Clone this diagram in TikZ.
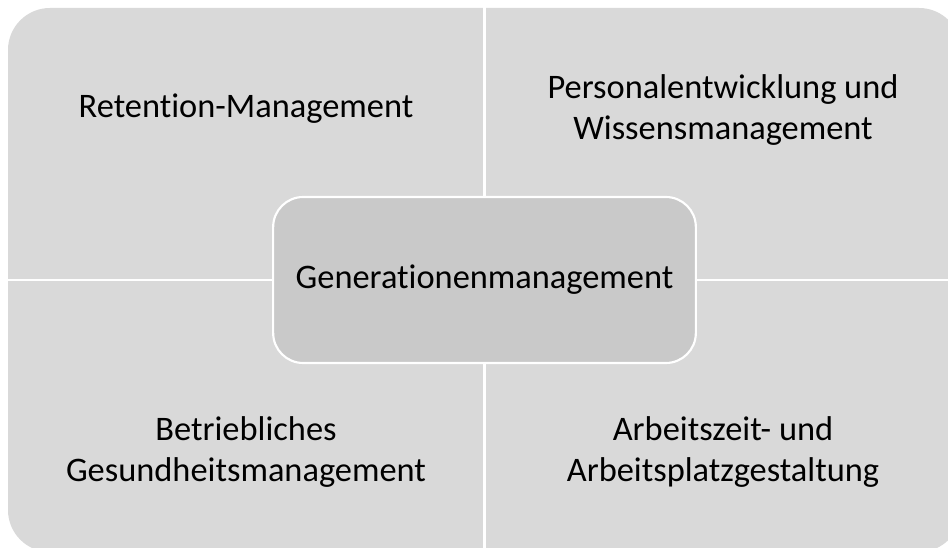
\documentclass[tikz,border=0pt]{standalone}
\usepackage{fontspec}
\setmainfont{Carlito}[Ligatures=NoCommon]
\definecolor{quad}{HTML}{D9D9D9}
\definecolor{mid}{HTML}{C9C9C9}
\tikzset{
  qlabel/.style={align=center, font=\fontsize{25.8}{30.5}\selectfont, text=black, inner sep=0pt},
  centerbox/.style={draw=white, line width=1.6pt, fill=mid, rounded corners=22.5pt,
    minimum width=317pt, minimum height=124.5pt, font=\fontsize{25.8}{30.5}\selectfont, inner sep=0pt},
  divider/.style={draw=white, line width=2.2pt}
}
\begin{document}
\begin{tikzpicture}[x=0.75pt,y=-0.75pt]
\useasboundingbox (0,0) rectangle (948,548);
\clip (0,0) rectangle (948,548);
\fill[white] (0,0) rectangle (948,548);
\fill[quad, rounded corners=31.5pt] (8,8) rectangle (961,552);
\coordinate (vtop) at (484.5,0);
\coordinate (vbot) at (484.5,548);
\coordinate (hleft) at (0,280);
\coordinate (hright) at (948,280);
\draw[divider] (vtop) -- (vbot);
\draw[divider] (hleft) -- (hright);
\node[centerbox] (c) at (484.5,280) {Generationenmanagement};
\node[qlabel] (tl) at (246,109) {Retention-Management};
\node[qlabel] (tr) at (723,110) {Personalentwicklung und\\Wissensmanagement};
\node[qlabel] (bl) at (246,452) {Betriebliches\\Gesundheitsmanagement};
\node[qlabel] (br) at (723,452) {Arbeitszeit- und\\Arbeitsplatzgestaltung};
\end{tikzpicture}
\end{document}
